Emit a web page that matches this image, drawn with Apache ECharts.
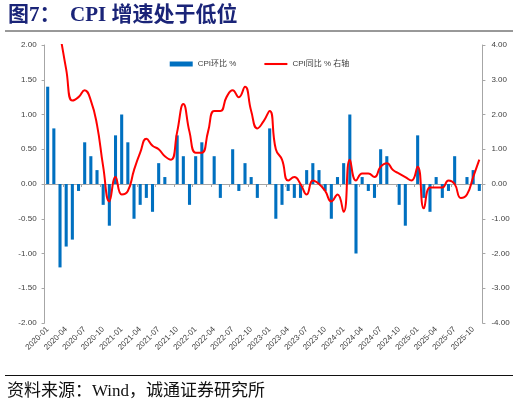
<!DOCTYPE html>
<html>
<head>
<meta charset="utf-8">
<script src="https://cdn.jsdelivr.net/npm/echarts@6/dist/echarts.min.js"></script>
<style>
html,body{margin:0;padding:0;background:#fff;}
#c{width:519px;height:406px;}
</style>
</head>
<body>
<div id="c"></div>
<script>
var categories = [
'2020-01','2020-02','2020-03','2020-04','2020-05','2020-06','2020-07','2020-08','2020-09','2020-10','2020-11','2020-12',
'2021-01','2021-02','2021-03','2021-04','2021-05','2021-06','2021-07','2021-08','2021-09','2021-10','2021-11','2021-12',
'2022-01','2022-02','2022-03','2022-04','2022-05','2022-06','2022-07','2022-08','2022-09','2022-10','2022-11','2022-12',
'2023-01','2023-02','2023-03','2023-04','2023-05','2023-06','2023-07','2023-08','2023-09','2023-10','2023-11','2023-12',
'2024-01','2024-02','2024-03','2024-04','2024-05','2024-06','2024-07','2024-08','2024-09','2024-10','2024-11','2024-12',
'2025-01','2025-02','2025-03','2025-04','2025-05','2025-06','2025-07','2025-08','2025-09','2025-10','2025-11'
];
var cpiMoM = [
1.4,0.8,-1.2,-0.9,-0.8,-0.1,0.6,0.4,0.2,-0.3,-0.6,0.7,
1.0,0.6,-0.5,-0.3,-0.2,-0.4,0.3,0.1,0.0,0.7,0.4,-0.3,
0.4,0.6,0.0,0.4,-0.2,0.0,0.5,-0.1,0.3,0.1,-0.2,0.0,
0.8,-0.5,-0.3,-0.1,-0.2,-0.2,0.2,0.3,0.2,-0.1,-0.5,0.1,
0.3,1.0,-1.0,0.1,-0.1,-0.2,0.5,0.4,0.0,-0.3,-0.6,0.0,
0.7,-0.2,-0.4,0.1,-0.2,-0.1,0.4,0.0,0.1,0.2,-0.1
];
var cpiYoY = [
5.4,5.2,4.3,3.3,2.4,2.5,2.7,2.4,1.7,0.5,-0.5,0.2,
-0.3,-0.2,0.4,0.9,1.3,1.1,1.0,0.8,0.7,1.5,2.3,1.5,
0.9,0.9,1.5,2.1,2.1,2.5,2.7,2.5,2.8,2.1,1.6,1.8,
2.1,1.0,0.7,0.1,0.2,0.0,-0.3,0.1,0.0,-0.2,-0.5,-0.3,
-0.8,0.7,0.1,0.3,0.3,0.2,0.5,0.6,0.4,0.3,0.2,0.1,
0.5,-0.7,-0.1,-0.1,-0.1,0.1,0.0,-0.4,-0.3,0.2,0.7
];
var seriesNames = ['CPI环比 %','CPI同比 % 右轴'];

var sans = '"Liberation Sans","Noto Sans CJK SC",sans-serif';
var chart = echarts.init(document.getElementById('c'), null, {renderer:'canvas'});
chart.setOption({
  animation:false,
  backgroundColor:'#fff',
  textStyle:{fontFamily:sans},
  graphic:[
    {type:'text', left:8, top:5, style:{text:'图7：', font:'bold 21px "Liberation Serif","Noto Sans CJK SC",serif', fill:'#1a2478'}},
    {type:'text', left:70, top:5, style:{text:'CPI 增速处于低位', font:'bold 21px "Liberation Serif","Noto Sans CJK SC",serif', fill:'#1a2478'}},
    {type:'line', shape:{x1:5,y1:31,x2:513,y2:31}, style:{stroke:'#333',lineWidth:1}},
    {type:'line', shape:{x1:5,y1:375.5,x2:513,y2:375.5}, style:{stroke:'#111',lineWidth:1}},
    {type:'text', left:7, top:383, style:{text:'资料来源：Wind，诚通证券研究所', font:'17px "Liberation Serif","Noto Sans CJK SC",serif', fill:'#111'}}
  ],
  legend:{
    top:55, left:'center',
    itemGap:28, itemWidth:23, itemHeight:5,
    textStyle:{fontSize:8, color:'#404040', fontFamily:sans},
    data:[
      {name:seriesNames[0], icon:'rect'},
      {name:seriesNames[1], icon:'path://M0,0H100V9H0Z'}
    ]
  },
  grid:{left:44.6, right:36.6, top:45, bottom:83, containLabel:false},
  xAxis:[
    {type:'category', data:categories, position:'bottom',
     axisLine:{show:true, onZero:true, onZeroAxisIndex:0, lineStyle:{color:'#a6a6a6', width:1}},
     axisTick:{show:true, interval:2, length:3, lineStyle:{color:'#a6a6a6'}},
     axisLabel:{show:false}, splitLine:{show:false}},
    {type:'category', data:categories, position:'bottom',
     axisLine:{show:false, onZero:false}, axisTick:{show:false},
     axisLabel:{show:true, interval:2, rotate:45, fontSize:8, color:'#404040', margin:5, fontFamily:sans},
     splitLine:{show:false}}
  ],
  yAxis:[
    {type:'value', min:-2, max:2, interval:0.5, position:'left',
     axisLine:{show:true, lineStyle:{color:'#a6a6a6'}},
     axisTick:{show:true, length:3, lineStyle:{color:'#a6a6a6'}},
     axisLabel:{fontSize:8, color:'#404040', margin:8, formatter:function(v){return v.toFixed(2);}},
     splitLine:{show:false}},
    {type:'value', min:-4, max:4, interval:1, position:'right',
     axisLine:{show:true, lineStyle:{color:'#a6a6a6'}},
     axisTick:{show:true, length:3, lineStyle:{color:'#a6a6a6'}},
     axisLabel:{fontSize:8, color:'#404040', margin:9, formatter:function(v){return v.toFixed(2);}},
     splitLine:{show:false}}
  ],
  series:[
    {name:seriesNames[0], type:'bar', xAxisIndex:0, yAxisIndex:0, data:cpiMoM,
     barWidth:'50%', itemStyle:{color:'#0070c0'}},
    {name:seriesNames[1], type:'line', xAxisIndex:0, yAxisIndex:1, data:cpiYoY,
     smooth:0.5, symbol:'none', clip:true, lineStyle:{color:'#ff0000', width:2}, itemStyle:{color:'#ff0000'}}
  ]
});
</script>
</body>
</html>
